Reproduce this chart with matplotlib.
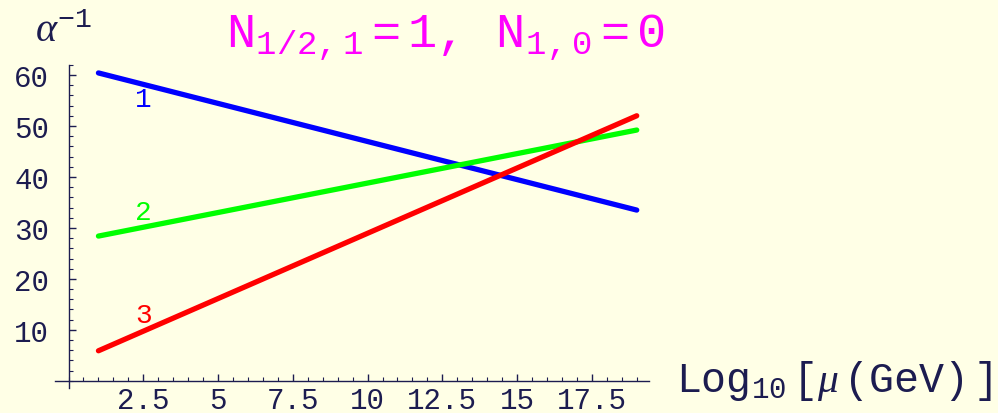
import matplotlib.pyplot as plt
from matplotlib.ticker import MultipleLocator

# inverse couplings at the two ends of the running, log10(mu) from 1 to 19
log_mu = [1, 19]
alpha1 = [60.4, 33.5]
alpha2 = [28.4, 49.2]
alpha3 = [5.9, 52.0]
labels = ['1', '2', '3']
label_pos = [(2.5, 55.3), (2.5, 33.1), (2.5, 12.9)]

ink = '#1c1c50'
bg = '#ffffe6'

plt.rcParams['mathtext.fontset'] = 'custom'
plt.rcParams['mathtext.rm'] = 'Liberation Mono'
plt.rcParams['mathtext.it'] = 'Liberation Serif:italic'
plt.rcParams['font.family'] = 'Liberation Mono'

fig = plt.figure(figsize=(9.98, 4.14), dpi=100, facecolor=bg)
ax = fig.add_axes([0.0552, 0.0604, 0.5948, 0.7807])
ax.set_facecolor(bg)

colors = ['#0000ff', '#00ff00', '#ff0000']
for ys, c in zip([alpha1, alpha2, alpha3], colors):
    ax.plot(log_mu, ys, color=c, lw=3.8, solid_capstyle='round')

for lab, (x, y), c in zip(labels, label_pos, colors):
    ax.text(x, y, lab, color=c, fontsize=20, ha='center', va='center')

ax.set_xlim(-0.45, 19.4)
ax.set_ylim(-1.4, 62)

for s in ['top', 'right']:
    ax.spines[s].set_visible(False)
ax.spines['left'].set_position(('data', 0))
ax.spines['bottom'].set_position(('data', 0))
for s in ['left', 'bottom']:
    ax.spines[s].set_color(ink)
    ax.spines[s].set_linewidth(1.0)

ax.xaxis.set_minor_locator(MultipleLocator(0.5))
ax.yaxis.set_minor_locator(MultipleLocator(2))
ax.set_xticks([2.5, 5, 7.5, 10, 12.5, 15, 17.5])
ax.set_xticklabels(['2.5', '5', '7.5', '10', '12.5', '15', '17.5'])
ax.set_yticks([10, 20, 30, 40, 50, 60])
ax.tick_params(which='both', direction='in', color=ink, labelcolor=ink, labelsize=21)
ax.tick_params(which='major', length=5, width=1)
ax.tick_params(which='minor', length=3, width=0.8)
ax.tick_params(axis='x', pad=4)
ax.tick_params(axis='y', pad=14)

fig.text(0.035, 0.925, r'$\alpha^{-1}$', color=ink, fontsize=29, ha='left', va='center')
fig.text(0.446, 0.91, r'$\mathrm{N_{1/2,1}=1,\ \ N_{1,0}=0}$', color='#ff00ff',
         fontsize=35, ha='center', va='center')
fig.text(0.836, 0.08, r'$\mathrm{Log_{10}\,[}\mu\mathrm{\,(GeV)\,]}$', color=ink,
         fontsize=30, ha='center', va='center')

fig.savefig('out.png', dpi=100, facecolor=bg)
